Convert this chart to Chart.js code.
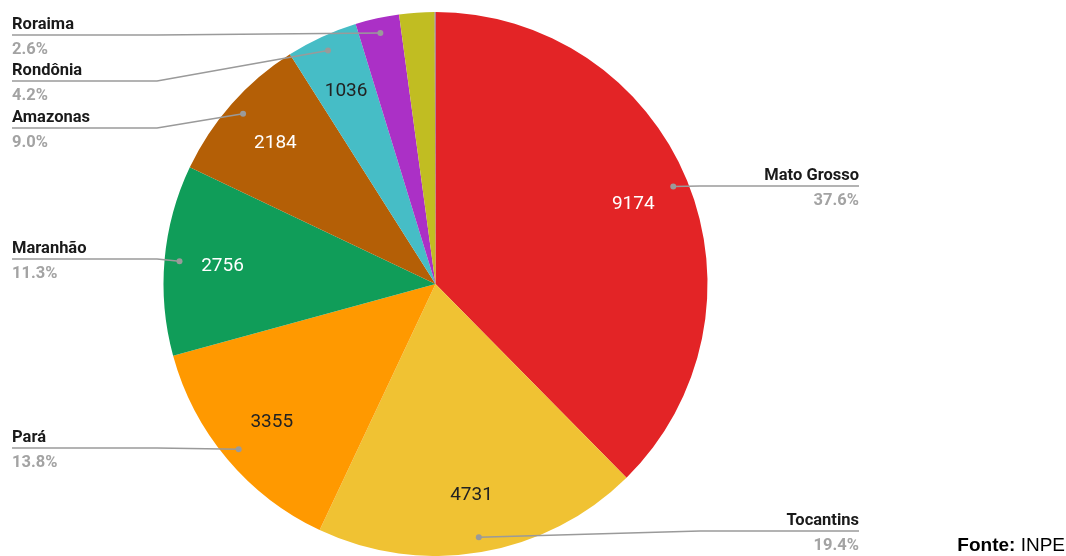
<!DOCTYPE html>
<html>
<head>
<meta charset="utf-8">
<script src="https://cdn.jsdelivr.net/npm/chart.js@4.4.0/dist/chart.umd.min.js"></script>
<style>
  html, body { margin: 0; padding: 0; background: #ffffff; }
  #wrap { position: relative; width: 1066px; height: 556px; overflow: hidden; }
  #fonte { position: absolute; right: 1px; bottom: 0px; font-family: "Liberation Sans", Arial, sans-serif; font-size: 19px; color: #000; line-height: 22px; }
</style>
</head>
<body>
<div id="wrap">
  <canvas id="c" width="1066" height="556"></canvas>
  <div id="fonte"><b>Fonte:</b> INPE</div>
</div>
<script>
// ---- data ----
const categories = ['Mato Grosso', 'Tocantins', 'Pará', 'Maranhão', 'Amazonas', 'Rondônia', 'Roraima', 'Acre', 'Amapá'];
const values = [9174, 4731, 3355, 2756, 2184, 1036, 635, 510, 12];
const labelledSlices = ['Mato Grosso', 'Tocantins', 'Pará', 'Maranhão', 'Amazonas', 'Rondônia', 'Roraima'];
const valueLabelSlices = ['Mato Grosso', 'Tocantins', 'Pará', 'Maranhão', 'Amazonas', 'Rondônia'];

// ---- style / layout ----
const sliceColors = ['#e32426', '#f0c233', '#ff9900', '#109d59', '#b45f06', '#46bdc6', '#ab30c6', '#c1bd22', '#7d6f9c'];
const valueTextColors = ['#ffffff', '#222222', '#222222', '#ffffff', '#ffffff', '#222222'];
const calloutLayout = {
  'Mato Grosso': { side: 'right', y: 186 },
  'Tocantins':   { side: 'right', y: 531 },
  'Pará':        { side: 'left',  y: 448 },
  'Maranhão':    { side: 'left',  y: 259 },
  'Amazonas':    { side: 'left',  y: 128 },
  'Rondônia':    { side: 'left',  y: 81 },
  'Roraima':     { side: 'left',  y: 35 }
};

const total = values.reduce((a, b) => a + b, 0);

const calloutPlugin = {
  id: 'callouts',
  afterDatasetsDraw(chart) {
    const ctx = chart.ctx;
    const meta = chart.getDatasetMeta(0);
    ctx.save();
    meta.data.forEach((arc, i) => {
      const name = categories[i];
      const p = arc.getProps(['x', 'y', 'startAngle', 'endAngle', 'outerRadius'], true);
      const mid = (p.startAngle + p.endAngle) / 2;
      // value label inside slice
      const vi = valueLabelSlices.indexOf(name);
      if (vi >= 0) {
        const r = p.outerRadius * 0.786;
        ctx.font = '19px Roboto';
        ctx.fillStyle = valueTextColors[vi];
        ctx.textAlign = 'center';
        ctx.textBaseline = 'middle';
        ctx.fillText(String(values[i]), p.x + Math.cos(mid) * r, p.y + Math.sin(mid) * r + 1);
      }
      // callout
      if (labelledSlices.indexOf(name) >= 0) {
        const lay = calloutLayout[name];
        const rd = p.outerRadius - 15;
        const dx = p.x + Math.cos(mid) * rd;
        const dy = p.y + Math.sin(mid) * rd;
        ctx.strokeStyle = '#9a9a9a';
        ctx.lineWidth = 1.5;
        ctx.beginPath();
        let textX, align;
        if (lay.side === 'left') {
          textX = 12; align = 'left';
          ctx.moveTo(12, lay.y);
          ctx.lineTo(157, lay.y);
          ctx.lineTo(dx, dy);
        } else {
          textX = 859; align = 'right';
          ctx.moveTo(859, lay.y);
          ctx.lineTo(700, lay.y);
          ctx.lineTo(dx, dy);
        }
        ctx.stroke();
        ctx.fillStyle = '#9a9a9a';
        ctx.beginPath();
        ctx.arc(dx, dy, 3, 0, Math.PI * 2);
        ctx.fill();
        ctx.textAlign = align;
        ctx.textBaseline = 'alphabetic';
        ctx.font = 'bold 16.5px Roboto';
        ctx.fillStyle = '#1a1a1a';
        ctx.fillText(name, textX, lay.y - 6);
        ctx.fillStyle = '#a3a3a3';
        ctx.fillText((values[i] / total * 100).toFixed(1) + '%', textX, lay.y + 19);
      }
    });
    ctx.restore();
  }
};

new Chart(document.getElementById('c'), {
  type: 'pie',
  data: {
    labels: categories,
    datasets: [{
      data: values,
      backgroundColor: sliceColors,
      borderWidth: 0,
      hoverOffset: 0
    }]
  },
  options: {
    responsive: false,
    animation: false,
    events: [],
    layout: { padding: { left: 163, right: 358, top: 12, bottom: 0 } },
    plugins: {
      legend: { display: false },
      tooltip: { enabled: false }
    }
  },
  plugins: [calloutPlugin]
});
</script>
</body>
</html>
